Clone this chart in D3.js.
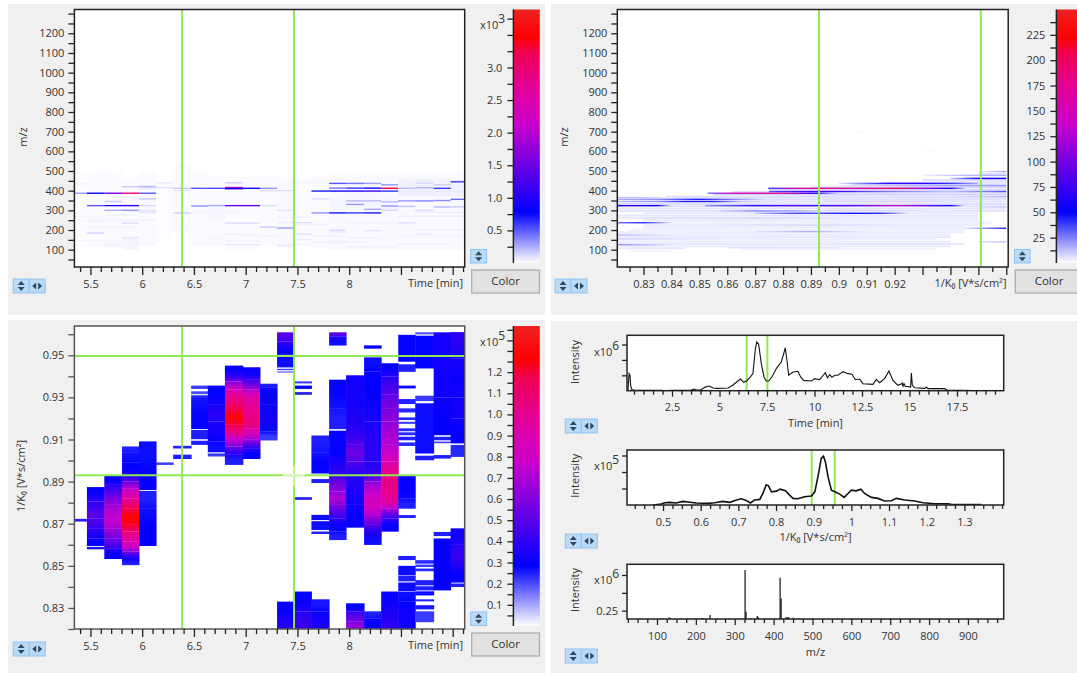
<!DOCTYPE html>
<html><head><meta charset="utf-8">
<script src="https://cdn.jsdelivr.net/npm/d3@7"></script>
<style>html,body{margin:0;padding:0;background:#fff}svg{display:block}text{font-family:"Open Sans","Noto Sans",sans-serif;fill:#333}</style>
</head><body><svg id="c" width="1077" height="673"></svg>
<script>
// ---------- data ----------
const rtEdges=[5.345,5.466,5.634,5.805,5.969,6.134,6.299,6.473,6.634,6.799,6.973,7.138,7.303,7.470,7.635,7.806,7.970,8.144,8.309,8.474,8.638,8.816,8.980,9.116];
const rtWindow=[6.386,7.467];
const mobWindow=[0.8930,0.9497];
const mobWindowB=[0.8929,0.9509];
const ticWindow=[6.43,7.52];
const mobTraceWindow=[0.8947,0.9558];

// retention time x 1/K0 map: per column [k0 high, k0 low, intensity x10^5]
const rtMobColumns=[
[[.8723,.8711,.25]],
[[.8874,.8837,.29],[.8837,.8806,.36],[.8806,.8766,.42],[.8766,.8726,.5],[.8726,.8679,.46],[.8679,.8631,.36],[.8631,.8595,.29],[.859,.8579,.26]],
[[.8929,.8885,.3],[.8885,.8837,.45],[.8837,.879,.6],[.879,.8742,.72],[.8742,.8679,.76],[.8679,.8631,.62],[.8631,.8584,.5],[.8584,.8533,.3]],
[[.9067,.9040,.25],[.9040,.8990,.27],[.8990,.8932,.29],[.8932,.8901,.42],[.8901,.8869,.62],[.8869,.8821,.85],[.8821,.8774,1.05],[.8774,.8695,1.27],[.8695,.8663,1.18],[.8663,.8615,1.0],[.8615,.8568,.8],[.8568,.8528,.4],[.8528,.8504,.25]],
[[.9091,.8932,.27],[.8932,.8861,.3],[.8856,.8774,.25],[.8774,.8595,.285]],
[[.8991,.898,.22]],
[[.907,.9058,.25],[.9028,.9008,.25]],
[[.9356,.9341,.22],[.9329,.9316,.2],[.931,.9297,.24],[.9297,.915,.28],[.9145,.9102,.25],[.9094,.9075,.25]],
[[.9356,.9265,.28],[.9265,.9186,.38],[.9186,.9091,.33],[.9091,.904,.27],[.9034,.902,.22]],
[[.9451,.9416,.28],[.9416,.9376,.42],[.9376,.9337,.72],[.9337,.9297,.95],[.9297,.9241,1.1],[.9241,.917,1.28],[.917,.9131,1.1],[.9131,.9107,.9],[.9107,.9067,.7],[.9067,.9028,.45],[.9028,.898,.25]],
[[.9443,.9384,.3],[.9384,.9337,.55],[.9337,.9297,.85],[.9297,.9202,1.0],[.9202,.9154,1.08],[.9154,.9099,.85],[.9099,.9059,.5],[.9059,.9008,.28]],
[[.9365,.9348,.25],[.9348,.9265,.3],[.9265,.9138,.33],[.9138,.9096,.22]],
[[.9609,.9566,.5],[.9566,.9503,.32],[.9503,.9443,.27],[.9436,.943,.22],[.9423,.9419,.22],[.833,.8267,.3],[.8267,.8243,.34],[.8243,.82,.36]],
[[.9376,.9367,.22],[.9356,.9341,.28],[.9325,.9313,.25],[.8826,.8814,.25],[.8378,.8338,.28],[.8338,.8283,.32],[.8283,.82,.42]],
[[.9119,.9040,.25],[.9040,.8939,.28],[.8912,.8894,.25],[.8742,.8718,.27],[.8712,.8671,.27],[.8663,.8652,.25],[.8341,.8283,.26],[.8283,.82,.34]],
[[.9609,.959,.5],[.959,.9547,.27],[.9384,.9249,.28],[.9249,.915,.25],[.9142,.8932,.28],[.8932,.8853,.55],[.8853,.879,.72],[.879,.8726,.5],[.8726,.8663,.3],[.8663,.8623,.25]],
[[.9405,.915,.33],[.915,.9075,.42],[.9075,.8996,.55],[.8996,.8932,.42],[.8932,.879,.35],[.879,.8682,.3],[.8322,.8283,.3],[.8283,.8235,.5],[.8235,.82,.65]],
[[.9547,.9532,.28],[.949,.9423,.27],[.9423,.9186,.3],[.9186,.8996,.38],[.8996,.8932,.38],[.8932,.8901,.5],[.8901,.8837,.72],[.8837,.8742,.85],[.8742,.8695,.6],[.8695,.8647,.4],[.8647,.86,.27],[.8284,.8251,.25],[.8251,.82,.3]],
[[.9462,.94,.3],[.94,.9313,.45],[.9313,.9249,.55],[.9249,.9186,.6],[.9186,.9075,.68],[.9075,.8996,.78],[.8996,.8932,.98],[.8932,.8837,1.05],[.8837,.8774,.95],[.8774,.8726,.55],[.8726,.8663,.3],[.8378,.8314,.3],[.8314,.8243,.35],[.8243,.82,.4]],
[[.9597,.947,.28],[.9457,.9422,.25],[.9356,.9343,.27],[.9292,.9269,.25],[.9248,.9229,.24],[.9205,.9193,.24],[.9184,.9175,.22],[.9153,.914,.24],[.9134,.9121,.24],[.9113,.9097,.25],[.9086,.907,.24],[.893,.8821,.3],[.8821,.8772,.25],[.8741,.8728,.25],[.8547,.8528,.25],[.85,.8455,.27],[.8452,.8427,.25],[.8421,.8379,.27],[.8376,.833,.27],[.833,.82,.32]],
[[.9609,.96,.2],[.9593,.9438,.28],[.9308,.9283,.22],[.9272,.9034,.27],[.9023,.9002,.25],[.8527,.8511,.24],[.8506,.8495,.22],[.8487,.8475,.24],[.8432,.8408,.25],[.8403,.8384,.25],[.8379,.836,.27],[.8341,.8332,.25],[.8313,.8294,.26],[.8284,.8233,.22]],
[[.9609,.93,.33],[.93,.9121,.3],[.9113,.9097,.25],[.909,.9083,.22],[.9026,.901,.25],[.8661,.8642,.25],[.863,.85,.3],[.85,.8384,.29]],
[[.961,.9486,.38],[.9486,.93,.3],[.93,.92,.34],[.92,.9082,.3],[.9074,.9018,.24],[.8678,.86,.32],[.86,.85,.42],[.85,.8421,.3],[.8416,.84,.25]]
];

// retention time x m/z map: faint patches [col from, col to, m/z low, m/z high, intensity]
const rtMzPatches=[[0,0,140,500,9],[1,1,120,500,14],[2,2,110,500,13],[3,3,100,460,14],[4,4,130,500,12],[5,5,140,440,7],[6,6,190,530,12],[7,7,130,500,11],[8,8,120,470,14],[9,10,100,470,16],[11,11,120,470,15],[12,12,110,470,17],[13,13,130,460,14],[14,14,110,480,15],[15,18,100,480,19],[19,22,100,490,19],[3,3,100,170,30],[1,2,240,260,30],[15,15,130,150,35],[15,15,185,205,45],[16,17,370,440,28],[15,18,305,360,32],[4,4,285,305,70],[19,22,370,460,40],[8,8,250,340,26],[4,4,405,430,60],[17,17,410,440,25]];
// retention time x m/z map: streaks [col from, col to, m/z, intensity]
const rtMzStreaks=[[0,0,387,300],[1,1,387,780],[2,2,387,1500],[3,3,387,3000],[4,4,387,520],[1,1,324,520],[2,2,324,1000],[3,3,324,1150],[4,4,324,120],[0,0,435,50],[4,4,420,220],[4,4,358,170],[5,5,415,90],[5,5,440,70],[6,6,287,140],[6,6,412,170],[3,3,300,320],[2,2,300,260],[3,3,420,170],[2,2,345,170],[3,3,235,110],[1,1,185,130],[2,2,125,70],[3,3,160,70],
[7,7,412,520],[8,8,412,560],[9,9,416,1900],[9,9,410,900],[10,10,412,760],[11,11,412,330],[7,7,322,340],[8,8,324,250],[9,9,324,1500],[10,10,324,1400],[11,11,324,110],[9,10,235,110],[9,9,440,160],[11,11,215,160],[12,12,210,300],[12,12,238,60],[11,12,400,100],[12,12,300,90],[13,13,237,110],[13,13,180,110],[12,12,120,70],[9,10,125,80],[13,13,152,60],[6,6,400,80],
[14,14,398,700],[15,15,398,850],[16,16,398,950],[17,17,398,1150],[18,18,398,650],[15,15,413,420],[16,16,413,620],[17,17,413,850],[18,18,412,3300],[15,15,437,520],[16,16,437,420],[17,17,437,300],[18,18,430,320],[14,14,287,330],[15,15,287,720],[16,16,287,620],[17,17,287,720],[14,14,358,110],[15,15,198,110],[17,17,197,80],[16,16,330,320],[16,16,348,230],[17,17,305,280],[17,17,348,220],[18,18,322,320],[18,18,343,220],[18,18,300,130],[19,19,348,330],[20,20,348,380],[21,21,350,350],[22,22,356,480],[22,22,445,600],[21,21,412,600],[19,19,412,200],[20,20,415,220],[21,21,430,150],[20,20,438,120],[19,19,320,200],[21,21,317,230],[20,20,300,120],[22,22,318,160],[19,19,237,100],[20,20,180,70],
[0,2,145,30],[2,4,130,35],[1,3,215,40],[3,4,250,45],[0,1,270,35],[2,3,275,40],[6,6,215,35],[7,8,130,35],[7,8,160,30],[7,9,290,35],[9,10,180,40],[9,10,145,50],[10,11,170,40],[12,13,125,50],[12,13,265,45],[13,14,230,40],[14,16,140,45],[14,15,170,50],[16,17,160,45],[16,18,115,50],[16,18,235,40],[19,21,130,45],[19,22,170,40],[19,22,270,55],[20,22,290,60],[20,22,200,40],[19,21,380,60],[19,22,395,70],[13,14,440,30]];

// 1/K0 x m/z map: streak [m/z, [k0 knots], [intensity at knots]]
const mobMzStreaks=[
[324,[.8206,.826,.835,.84],[55,72,50,4]],[324,[.852,.87,.88,.8926,.905,.92,.93,.94,.945],[22,62,85,75,85,150,100,55,6]],
[412,[.8747,.885,.8926,.905,.92,.93,.94,.945],[40,150,185,170,195,120,65,12]],
[387,[.853,.862,.88,.892,.90],[30,150,175,60,5]],
[396,[.875,.89,.90,.915,.94,.96],[35,80,80,28,12,35]],
[437,[.90,.91,.918,.93,.94,.95],[5,30,65,65,40,15]],
[462,[.94,.95,.96],[12,55,55]],[497,[.95,.96],[5,18]],[478,[.93,.945,.96],[3,14,16]],
[345,[.82,.835,.845,.855,.865,.88],[12,22,45,45,12,4]],
[356,[.82,.835,.85,.86,.875],[16,22,45,28,4]],[365,[.82,.83,.84],[14,12,3]],
[285,[.87,.885,.8926,.905,.915,.925],[12,38,38,48,42,5]],
[297,[.855,.87,.885,.895],[5,24,18,4]],[237,[.82,.83,.84],[28,42,6]],
[209,[.945,.95,.96],[6,18,46]],[175,[.82,.84],[14,5]],[125,[.82,.84],[24,5]],
[192,[.87,.89,.90,.91],[5,16,9,3]],[346,[.895,.93,.95],[8,8,5]],[316,[.95,.96],[6,10]],[140,[.95,.96],[6,14]],[370,[.90,.94,.96],[6,6,14]],[425,[.90,.93,.96],[5,16,20]],[300,[.895,.92,.94],[7,7,3]],[155,[.82,.84,.86],[9,6,3]],[260,[.83,.87,.90],[6,8,5]],[225,[.86,.89,.92],[5,8,5]],[110,[.86,.90],[6,5]]
];
// 1/K0 x m/z map: faint rows [m/z, k0 start, k0 end, intensity]
const mobMzHaze=[[105,.865,.935,3],[117,.822,.94,3.5],[129,.82,.945,4.5],[141,.82,.94,4],[153,.82,.935,3.5],[165,.82,.94,4.5],[177,.82,.94,4],[189,.82,.945,3.5],[201,.825,.945,3],[213,.83,.945,4.5],[225,.83,.95,4],[237,.84,.955,3.5],[249,.83,.95,4.5],[261,.82,.95,4],[273,.82,.95,5],[285,.83,.95,4.5],[297,.82,.96,5.5],[309,.82,.96,5],[321,.82,.96,6],[333,.82,.96,6.5],[345,.82,.96,5.5],[357,.83,.96,6],[369,.838,.96,7],[381,.855,.96,9],[393,.862,.96,7],[405,.875,.96,7],[417,.89,.96,7],[429,.905,.96,8],[441,.915,.96,6.5],[453,.93,.96,6.5],[465,.945,.96,8],[485,.95,.96,5.5],[95,.825,.84,2],[107,.82,.845,5],[600,.93,.935,.8],[700,.905,.91,.8],[760,.925,.93,.8],[960,.858,.862,.8]];

// total ion chromatogram: time (min), intensity (x10^6)
const ticTime=[.13,.18,.24,.29,.32,.39,.54,1.94,2.11,2.46,3.52,3.64,3.78,4.01,4.22,4.45,4.66,4.89,5.45,5.71,5.97,6.11,6.27,6.43,6.59,6.76,6.89,6.96,7.06,7.20,7.34,7.46,7.59,7.76,7.99,8.25,8.38,8.46,8.55,8.64,8.87,9.13,9.27,9.43,9.83,10.01,10.27,10.39,10.57,10.68,10.80,10.92,11.06,11.24,11.50,11.76,11.97,12.15,12.38,12.55,13.08,13.25,13.43,13.69,13.92,14.13,14.39,14.54,14.61,14.66,14.71,14.78,15.06,15.10,15.15,15.27,15.80,15.89,15.97,16.85,16.97,19.13];
const ticValue=[0,.005,.277,.25,.087,.016,.011,.005,0,.005,.011,.027,.011,.011,.054,.076,.043,.038,.043,.092,.158,.19,.136,.158,.212,.277,.685,.793,.755,.44,.223,.158,.158,.223,.359,.467,.603,.696,.495,.25,.304,.315,.223,.168,.158,.196,.179,.223,.293,.207,.261,.217,.25,.25,.31,.277,.266,.179,.19,.114,.103,.185,.13,.196,.32,.168,.087,.103,.125,.071,.114,.071,.06,.288,.087,.049,.038,.06,.033,.033,.011,0];

// mobilogram: 1/K0, intensity (x10^5)
const mobK0=[.4735,.4956,.504,.518,.535,.553,.566,.588,.619,.637,.659,.677,.695,.708,.721,.732,.743,.757,.765,.774,.78,.788,.801,.811,.825,.836,.845,.858,.876,.894,.903,.913,.920,.926,.931,.938,.947,.956,.969,.981,.991,1.0,1.013,1.025,1.035,1.053,1.071,1.088,1.106,1.119,1.142,1.168,1.19,1.221,1.257,1.27,1.345];
const mobValue=[0,.03,.07,.08,.06,.11,.09,.06,.05,.07,.11,.08,.15,.19,.14,.06,.15,.17,.35,.61,.58,.40,.42,.48,.43,.30,.20,.19,.25,.27,.40,.96,1.41,1.48,1.31,.86,.45,.40,.33,.23,.35,.45,.43,.48,.35,.23,.20,.12,.13,.20,.15,.12,.07,.04,.04,.01,.01];

// mass spectrum sticks: m/z, intensity (x10^6)
const specMz=[111,116,131,134,164,178,197,205,215,218,236.5,255,288,317,326.6,329,343,358,360,381,394,416.7,419.3,432,435.6,439,450,459,467];
const specValue=[.14,.14,.157,.145,.14,.14,.14,.145,.148,.148,.19,.14,.14,.14,.82,.236,.14,.175,.16,.14,.14,.71,.42,.157,.157,.157,.15,.145,.14];

// axis ticks
const rtLabels=[5.5,6,6.5,7,7.5,8];
const rtMajor=[5.5,6,6.5,7,7.5,8,8.5,9];
const rtMinor=[5.4,5.6,5.7,5.8,5.9,6.1,6.2,6.3,6.4,6.6,6.7,6.8,6.9,7.1,7.2,7.3,7.4,7.6,7.7,7.8,7.9,8.1,8.2,8.3,8.4,8.6,8.7,8.8,8.9,9.1];
const mzLabels=[100,200,300,400,500,600,700,800,900,1000,1100,1200];
const mzMinor=[50,150,250,350,450,550,650,750,850,950,1050,1150,1250,1300];
const k0Labels=[.83,.84,.85,.86,.87,.88,.89,.9,.91,.92];
const k0Major=[.83,.84,.85,.86,.87,.88,.89,.9,.91,.92,.93,.94,.95,.96];
const k0Minor=[.825,.835,.845,.855,.865,.875,.885,.895,.905,.915,.925,.935,.945,.955];
const k0LabelsC=[.83,.85,.87,.89,.91,.93,.95];
const k0MinorC=[.82,.84,.86,.88,.9,.92,.94,.96];
const ticLabels=[2.5,5,7.5,10,12.5,15,17.5];
const mobLabels=[.5,.6,.7,.8,.9,1,1.1,1.2,1.3];
const specLabels=[100,200,300,400,500,600,700,800,900];
const barATicks=[.5,1,1.5,2,2.5,3];
const barAMinor=[.25,.75,1.25,1.75,2.25,2.75,3.25,3.5,3.75];
const barBTicks=[25,50,75,100,125,150,175,200,225];
const barBMinor=[12.5,37.5,62.5,87.5,112.5,137.5,162.5,187.5,212.5,237.5];
const barCTicks=[.1,.2,.3,.4,.5,.6,.7,.8,.9,1,1.1,1.2];
const barCMinor=[.05,.15,.25,.35,.45,.55,.65,.75,.85,.95,1.05,1.15,1.25,1.3,1.35,1.4];
const colorFractions=[0,.2,.55,.71,.83,.89,1];
const colorStops=["#ffffff","#0000ff","#cc00cc","#e60090","#f00050","#ff0000","#ee2222"];

// ---------- drawing ----------
const svg=d3.select("#c");
const defs=svg.append("defs");
const GREEN="#90e854",FS=11;
const panels=[[8,4,537,311],[551,4,526,311],[8,320,537,353],[551,321,526,352]];
svg.selectAll("rect.panel").data(panels).join("rect").attr("class","panel")
 .attr("x",d=>d[0]).attr("y",d=>d[1]).attr("width",d=>d[2]).attr("height",d=>d[3]).attr("fill","#f0f0f0");

let clipId=0;
function plot(x0,x1,y0,y1){
  const id="clip"+(clipId++);
  defs.append("clipPath").attr("id",id).append("rect").attr("x",x0).attr("y",y0).attr("width",x1-x0).attr("height",y1-y0);
  svg.append("rect").attr("x",x0).attr("y",y0).attr("width",x1-x0).attr("height",y1-y0).attr("fill","#fff");
  return svg.append("g").attr("clip-path",`url(#${id})`);
}
function frame(x0,x1,y0,y1,color){
  svg.append("rect").attr("x",x0).attr("y",y0).attr("width",x1-x0).attr("height",y1-y0)
    .attr("fill","none").attr("stroke",color||"#222").attr("stroke-width",1.5);
}
function axis(gen,scale,tx,ty,values,len,fmt,pad,color){
  const a=gen(scale).tickValues(values).tickSize(len).tickSizeOuter(0);
  a.tickFormat(fmt||(()=>""));
  if(pad!==undefined)a.tickPadding(pad);
  const g=svg.append("g").attr("transform",`translate(${tx},${ty})`).call(a);
  g.select(".domain").remove();
  g.selectAll("line").attr("stroke",color||"#222").attr("stroke-width",1.3);
  g.attr("font-size",FS).attr("font-family",null);
  g.selectAll("text").attr("fill","#333");
  return g;
}
function label(x,y,t,anchor,rot,size){
  const e=svg.append("text").attr("font-size",size||FS).attr("text-anchor",anchor||"middle").attr("dominant-baseline","middle");
  if(rot)e.attr("transform",`translate(${x},${y}) rotate(${rot})`);else e.attr("x",x).attr("y",y);
  e.text(t);return e;
}
function exponent(x,y,exp){
  const e=svg.append("text").attr("x",x).attr("y",y).attr("font-size",FS).attr("dominant-baseline","middle");
  e.append("tspan").text("x10");
  e.append("tspan").attr("dy",-6).attr("font-size",12).text(exp);
}
function fmtG(d){return String(+d.toFixed(3));}
function fmtLab(list){return d=>list.includes(d)?fmtG(d):"";}
function arrows(g,cx,cy,vertical){
  const p=d3.path();
  if(vertical){p.moveTo(cx,cy-5);p.lineTo(cx+3.5,cy-1);p.lineTo(cx-3.5,cy-1);p.closePath();p.moveTo(cx,cy+5);p.lineTo(cx+3.5,cy+1);p.lineTo(cx-3.5,cy+1);p.closePath();}
  else{p.moveTo(cx-5,cy);p.lineTo(cx-1,cy-3.5);p.lineTo(cx-1,cy+3.5);p.closePath();p.moveTo(cx+5,cy);p.lineTo(cx+1,cy-3.5);p.lineTo(cx+1,cy+3.5);p.closePath();}
  g.append("path").attr("d",p.toString()).attr("fill","#33475a");
}
function toggle(x,y,w,h,both){
  const g=svg.append("g");
  const n=both?2:1;
  for(let i=0;i<n;i++){
    g.append("rect").attr("x",x+i*w).attr("y",y).attr("width",w).attr("height",h).attr("fill","#b9dbf7").attr("stroke","#8fc3ee");
    arrows(g,x+i*w+w/2,y+h/2,i===0);
  }
}
function button(x,y,w,h){
  svg.append("rect").attr("x",x).attr("y",y).attr("width",w).attr("height",h).attr("fill","#e1e1e1").attr("stroke","#adadad").attr("stroke-width",1.3);
  const tx=Math.min(x+w/2,1049);
  label(tx,y+h/2,"Color","middle",null,11.5);
}
const color=max=>d3.scaleLinear().domain(colorFractions.map(f=>f*max)).range(colorStops).clamp(true);

function colorbar(id,x,y0,y1,max,w){
  const gr=defs.append("linearGradient").attr("id",id).attr("x1",0).attr("x2",0).attr("y1",1).attr("y2",0);
  colorFractions.forEach((f,i)=>gr.append("stop").attr("offset",f).attr("stop-color",colorStops[i]));
  svg.append("rect").attr("x",x).attr("y",y0).attr("width",w).attr("height",y1-y0).attr("fill",`url(#${id})`);
  svg.append("line").attr("x1",x).attr("x2",x).attr("y1",y0).attr("y2",y1).attr("stroke","#222").attr("stroke-width",1.5);
  return d3.scaleLinear().domain([0,max]).range([y1,y0]);
}
function cursorV(g,x,y0,y1,w){g.append("line").attr("x1",x).attr("x2",x).attr("y1",y0).attr("y2",y1).attr("stroke",GREEN).attr("stroke-width",w||2);}
function cursorH(g,y,x0,x1,w){g.append("line").attr("x1",x0).attr("x2",x1).attr("y1",y).attr("y2",y).attr("stroke",GREEN).attr("stroke-width",w||2);}

// shared scales
const xRT=d3.scaleLinear().domain([5.345,9.116]).range([74.4,464.7]);
const yMz=d3.scaleLinear().domain([12,1321]).range([267,9.5]);

// --- panel A: RT x m/z
{
  const colA=color(3890);
  const g=plot(74.4,464.7,9.5,267);
  g.selectAll("rect.p").data(rtMzPatches).join("rect").attr("class","p")
    .attr("x",d=>xRT(rtEdges[d[0]])).attr("width",d=>xRT(rtEdges[d[1]+1])-xRT(rtEdges[d[0]]))
    .attr("y",d=>yMz(Math.max(d[2],d[3]))).attr("height",d=>Math.abs(yMz(d[2])-yMz(d[3])))
    .attr("fill",d=>colA(d[4]));
  g.selectAll("rect.s").data(rtMzStreaks).join("rect").attr("class","s")
    .attr("x",d=>xRT(rtEdges[d[0]])).attr("width",d=>xRT(rtEdges[d[1]+1])-xRT(rtEdges[d[0]]))
    .attr("y",d=>yMz(d[2]+3.5)).attr("height",d=>yMz(d[2]-3.5)-yMz(d[2]+3.5))
    .attr("fill",d=>colA(d[3]));
  rtWindow.forEach(t=>cursorV(g,xRT(t),9.5,267));
  frame(74.4,464.7,9.5,267);
  axis(d3.axisBottom,xRT,0,267,rtMajor,8,fmtLab(rtLabels),5);
  axis(d3.axisBottom,xRT,0,267,rtMinor,5);
  axis(d3.axisLeft,yMz,74.4,0,mzLabels,6,fmtG,4);
  axis(d3.axisLeft,yMz,74.4,0,mzMinor,6);
  label(463,284,"Time [min]","end");
  label(24,137,"m/z","middle",-90);
  const b=colorbar("barA",513.4,9.5,263,3.89,26.4);
  axis(d3.axisLeft,b,513.4,0,barATicks,6,d=>d.toFixed(1),5);
  axis(d3.axisLeft,b,513.4,0,barAMinor,6);
  exponent(480,26,"3");
  toggle(13.2,279,16,14,true);toggle(470.6,249.5,16,13.5,false);
  button(471.7,270,67.8,23);
}
// --- panel B: 1/K0 x m/z
{
  const xK=d3.scaleLinear().domain([.8206,.9607]).range([617.3,1008.2]);
  const colB=color(250);
  const g=plot(617.3,1008.2,9.5,267);
  g.selectAll("rect.h").data(mobMzHaze).join("rect").attr("class","h")
    .attr("x",d=>xK(d[1])).attr("width",d=>xK(d[2])-xK(d[1]))
    .attr("y",d=>yMz(d[0]+5)).attr("height",d=>yMz(d[0]-5)-yMz(d[0]+5))
    .attr("fill",d=>colB(d[3]));
  mobMzStreaks.forEach((s,i)=>{
    const [mz,ks,vs]=s;
    const id="sb"+i;
    const gr=defs.append("linearGradient").attr("id",id).attr("gradientUnits","userSpaceOnUse")
      .attr("x1",xK(ks[0])).attr("x2",xK(ks[ks.length-1])).attr("y1",0).attr("y2",0);
    ks.forEach((k,j)=>gr.append("stop").attr("offset",(k-ks[0])/(ks[ks.length-1]-ks[0])).attr("stop-color",colB(vs[j])));
    g.append("rect").attr("x",xK(ks[0])).attr("width",xK(ks[ks.length-1])-xK(ks[0]))
      .attr("y",yMz(mz+3.5)).attr("height",yMz(mz-3.5)-yMz(mz+3.5)).attr("fill",`url(#${id})`);
  });
  mobWindowB.forEach(k=>cursorV(g,xK(k),9.5,267));
  frame(617.3,1008.2,9.5,267);
  axis(d3.axisBottom,xK,0,267,k0Major,8,fmtLab(k0Labels),5);
  axis(d3.axisBottom,xK,0,267,k0Minor,5);
  axis(d3.axisLeft,yMz,617.3,0,mzLabels,6,fmtG,4);
  axis(d3.axisLeft,yMz,617.3,0,mzMinor,6);
  label(1006.5,284,"1/K₀ [V*s/cm²]","end");
  label(565,137,"m/z","middle",-90);
  const b=colorbar("barB",1056.4,9.5,263,250,26);
  axis(d3.axisLeft,b,1056.4,0,barBTicks,6,d=>d,5);
  axis(d3.axisLeft,b,1056.4,0,barBMinor,6);
  toggle(555,279,16,14,true);toggle(1014.6,249.5,15.5,13.5,false);
  button(1015.3,270,70,23);
}
// --- panel C: RT x 1/K0
{
  const yK=d3.scaleLinear().domain([.82,.9639]).range([629,326]);
  const colC=color(1.418);
  const g=plot(74.4,464.7,326,629);
  const cells=rtMobColumns.flatMap((runs,i)=>runs.map((r,j)=>{
    const prev=runs[j-1],next=runs[j+1];
    const top=prev&&Math.abs(prev[1]-r[0])<.0003?(prev[2]+r[2])/2:r[2];
    const bot=next&&Math.abs(next[0]-r[1])<.0003?(next[2]+r[2])/2:r[2];
    return {i,hi:r[0],lo:r[1],v:r[2],top,bot,id:`cg${i}_${j}`};
  }));
  cells.forEach(c=>{
    const gr=defs.append("linearGradient").attr("id",c.id).attr("x1",0).attr("x2",0).attr("y1",0).attr("y2",1);
    gr.append("stop").attr("offset",0).attr("stop-color",colC(c.top));
    gr.append("stop").attr("offset",.5).attr("stop-color",colC(c.v));
    gr.append("stop").attr("offset",1).attr("stop-color",colC(c.bot));
  });
  g.selectAll("rect.c").data(cells).join("rect").attr("class","c")
    .attr("x",d=>xRT(rtEdges[d.i])).attr("width",d=>xRT(rtEdges[d.i+1])-xRT(rtEdges[d.i])+.5)
    .attr("y",d=>yK(d.hi)).attr("height",d=>yK(d.lo)-yK(d.hi)+.15)
    .attr("fill",d=>`url(#${d.id})`);
  rtWindow.forEach(t=>cursorV(g,xRT(t),326,629));
  mobWindow.forEach(k=>cursorH(g,yK(k),74.4,464.7));
  g.append("rect").attr("x",292.5).attr("y",466).attr("width",2).attr("height",20).attr("fill","#fff").attr("opacity",.6);
  g.append("rect").attr("x",283).attr("y",474).attr("width",22).attr("height",2).attr("fill","#fff").attr("opacity",.6);
  frame(74.4,464.7,326,629,"#555");
  axis(d3.axisBottom,xRT,0,629,rtMajor,8,fmtLab(rtLabels),5);
  axis(d3.axisBottom,xRT,0,629,rtMinor,5);
  axis(d3.axisLeft,yK,74.4,0,k0LabelsC,6,fmtG,4,"#555");
  axis(d3.axisLeft,yK,74.4,0,k0MinorC,6,null,4,"#555");
  label(463,646,"Time [min]","end");
  label(22,476,"1/K₀ [V*s/cm²]","middle",-90);
  const b=colorbar("barC",513.4,326,626,1.418,26.4);
  axis(d3.axisLeft,b,513.4,0,barCTicks,6,d=>d.toFixed(1),5);
  axis(d3.axisLeft,b,513.4,0,barCMinor,6);
  exponent(480,343,"5");
  toggle(13.2,642,16,14,true);toggle(470.6,612,16,13.5,false);
  button(471.7,633,67.8,23);
}
// --- panel D: traces
{
  const X0=627,X1=1003.7;
  function trace(y0,y1,xDomain,yDomain,xs,ys,win,ticksY,labelsX,minorX,xlab,yc,exp,expY,yLab,xlabY,toggleY,sw){
    const x=d3.scaleLinear().domain(xDomain).range([X0,X1]);
    const y=d3.scaleLinear().domain(yDomain).range([y1,y0]);
    const g=plot(X0,X1,y0,y1);
    if(win)win.forEach(v=>cursorV(g,x(v),y0,y1));
    if(xs){
      const line=d3.line().x(d=>x(d[0])).y(d=>y(d[1]));
      g.append("path").attr("d",line(d3.zip(xs,ys))).attr("fill","none").attr("stroke","#111").attr("stroke-width",sw);
    }
    frame(X0,X1,y0,y1);
    axis(d3.axisBottom,x,0,y1,labelsX,6,fmtG,7);
    axis(d3.axisBottom,x,0,y1,minorX,4);
    axis(d3.axisLeft,y,X0,0,ticksY,5,yLab?(d=>yLab.includes(d)?d:""):null,4);
    label(815.5,xlabY,xlab);
    label(575.7,yc,"Intensity","middle",-90);
    exponent(594,expY,exp);
    toggle(565.3,toggleY,16,14,true);
    return {x,y,g};
  }
  const minorTic=[.5,1,1.5,2,3,3.5,4,4.5,5.5,6,6.5,7,8,8.5,9,9.5,10.5,11,11.5,12,13,13.5,14,14.5,15.5,16,16.5,17,18,18.5,19,19.5];
  const minorMob=[.425,.45,.475,.525,.55,.575,.625,.65,.675,.725,.75,.775,.825,.85,.875,.925,.95,.975,1.025,1.05,1.075,1.125,1.15,1.175,1.225,1.25,1.275,1.325,1.35,1.375,1.4];
  const minorMz=[25,50,75,125,150,175,225,250,275,325,350,375,425,450,475,525,550,575,625,650,675,725,750,775,825,850,875,925,950,975];
  trace(335.3,390.7,[.13,19.96],[0,.9],ticTime,ticValue,ticWindow,[.25,.5,.75],ticLabels,minorTic,"Time [min]",362,"6",353,null,424,419,1.1);
  trace(450,505,[.4044,1.4044],[0,1.667],mobK0,mobValue,mobTraceWindow,[.5,1,1.5],mobLabels,minorMob,"1/K₀ [V*s/cm²]",475.7,"5",466.7,null,538,534,1.6);
  const s=trace(564.3,619,[22.8,992],[.133,.9],null,null,null,[.25,.5,.75],specLabels,minorMz,"m/z",590,"6",581,[.25],652.7,649);
  s.g.selectAll("line.stick").data(d3.zip(specMz,specValue)).join("line").attr("class","stick")
    .attr("x1",d=>s.x(d[0])).attr("x2",d=>s.x(d[0])).attr("y1",619).attr("y2",d=>s.y(d[1]))
    .attr("stroke","#111").attr("stroke-width",1.2);
}
</script></body></html>
